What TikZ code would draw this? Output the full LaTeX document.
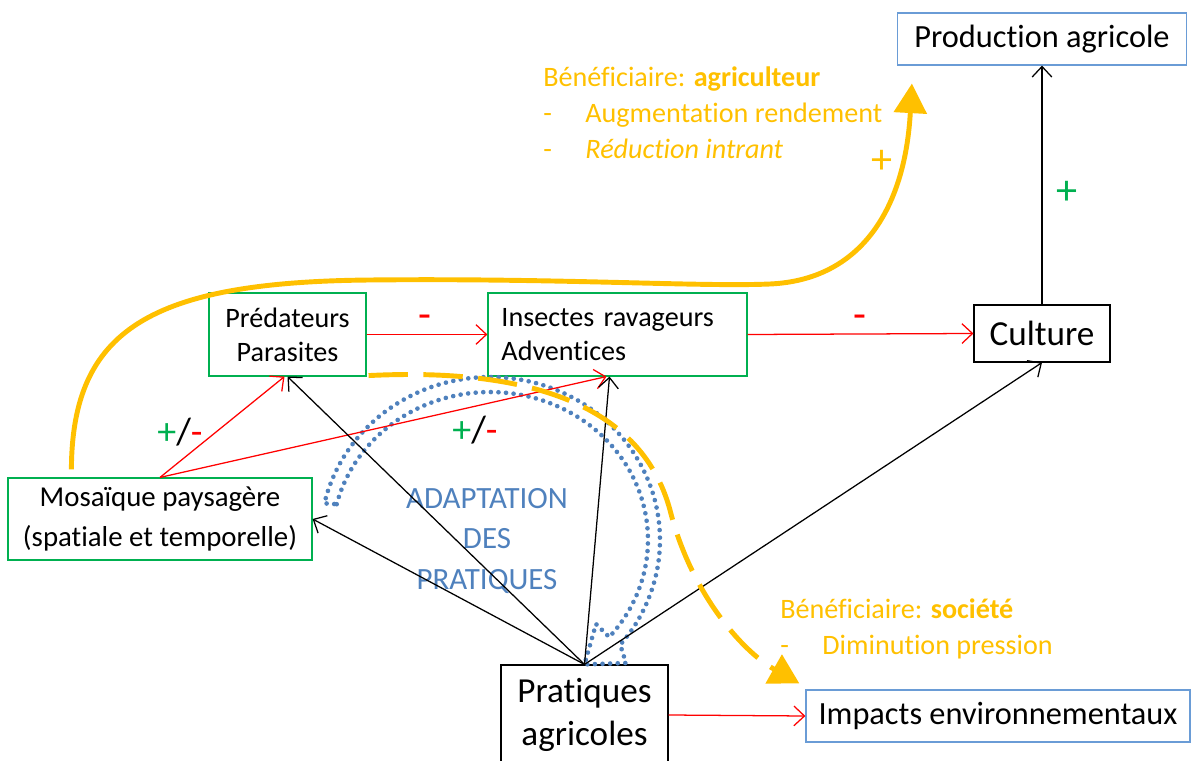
\documentclass[tikz,border=0pt]{standalone}
\usepackage{fontspec}
\setmainfont{Carlito}[Ligatures=NoCommon]
\usetikzlibrary{positioning,arrows.meta,calc}
\definecolor{orangeben}{HTML}{FFC000}
\definecolor{vertbox}{HTML}{00B050}
\definecolor{bleubox}{HTML}{6A9CD6}
\definecolor{bleupoint}{HTML}{4F81BD}
\newcommand{\plusmoins}{\textcolor{vertbox}{+}/\textcolor{red}{-}}
\newcommand{\tiret}{\makebox[30pt][l]{-}}

\begin{document}
\begin{tikzpicture}[
x=0.025cm, y=-0.025cm,
font=\fontsize{20}{24.4}\selectfont,
vbox/.style={draw=vertbox, line width=0.8pt, align=center},
bbox/.style={draw=bleubox, line width=0.8pt, align=center},
nbox/.style={draw=black, line width=0.8pt, align=center},
arrow/.style={-{Straight Barb[length=7.5pt,width=14pt]}, line width=0.9pt},
redarrow/.style={arrow, red},
benefarrow/.style={-{Triangle[length=21pt,width=23pt]}, orangeben, line width=3.5pt},
benefdash/.style={benefarrow, dash pattern=on 28pt off 11pt},
benef/.style={text=orangeben, align=left, inner sep=0pt, font=\fontsize{20}{25.8}\selectfont},
signe/.style={font=\fontsize{30}{32}\selectfont, inner sep=0pt},
dotline/.style={bleupoint, line width=3.3pt, dash pattern=on 0pt off 5.4pt, line cap=round}
]
\path[use as bounding box, clip] (0,0) rectangle (1192,761);

% boites
\node[bbox, minimum width=7.225cm, minimum height=1.3cm, font=\fontsize{23}{28}\selectfont] (prod) at (1042,39) {Production agricole};
\node[nbox, minimum width=3.4cm, minimum height=1.425cm, font=\fontsize{25}{30}\selectfont] (cult) at (1042,333.5) {Culture};
\node[vbox, minimum width=3.925cm, minimum height=2.075cm] (pred) at (287.5,334.5) {Prédateurs\\Parasites};
\node[vbox, minimum width=6.475cm, minimum height=2.075cm, text width=5.8cm, align=left] (ravag) at (617.5,334.5) {Insectes ravageurs\\Adventices};
\node[vbox, minimum width=7.6cm, minimum height=2.05cm, font=\fontsize{20.5}{28}\selectfont] (mosa) at (160,519) {Mosaïque paysagère\\(spatiale et temporelle)};
\node[nbox, minimum width=4.175cm, minimum height=2.5cm, font=\fontsize{25}{31}\selectfont] (prat) at (584.5,715) {Pratiques\\agricoles};
\node[bbox, minimum width=9.6cm, minimum height=1.3cm, font=\fontsize{23}{28}\selectfont] (impact) at (998,716) {Impacts environnementaux};

% adaptation
\draw[dotline] plot[domain=194:401, samples=70] ({490+158*cos(\x)}, {540+148*sin(\x)})
  -- (596,624) -- (prat.north) -- (626,663)
  -- plot[domain=400:193, samples=70] ({490+170*cos(\x)}, {540+163*sin(\x)}) -- cycle;
\node[text=bleupoint, align=center, font=\fontsize{22}{28.5}\selectfont] (adapt) at (487,541) {ADAPTATION\\DES\\PRATIQUES};

% fleches
\draw[arrow] (cult.north) -- (prod.south);
\draw[redarrow] (pred.east) -- (ravag.west);
\draw[redarrow] (ravag.east) -- (cult.west);
\draw[redarrow] (mosa.north) -- ($(pred.south)+(-3,0)$);
\draw[redarrow] (mosa.north) -- ($(ravag.south)+(-11,0)$);
\draw[arrow] (prat.north) -- (pred.south);
\draw[arrow] (prat.north) -- (mosa.east);
\draw[arrow] (prat.north) -- ($(ravag.south)+(-8,0)$);
\draw[arrow] (prat.north) -- (cult.south);
\draw[redarrow] (prat.east) -- (impact.west);

% signes
\node[signe, text=red] (moinsA) at (425,322) {-};
\node[signe, text=red] (moinsB) at (860,322) {-};
\node[signe, text=vertbox] (plusC) at (1067,193) {+};
\node[signe, text=orangeben] (plusB) at (882,162) {+};
\node[signe, font=\fontsize{27}{30}\selectfont] (pmA) at (180,432) {\plusmoins};
\node[signe, font=\fontsize{27}{30}\selectfont] (pmB) at (475,430) {\plusmoins};

% beneficiaires
\coordinate (agri) at ($(prod.south west)+(15,18)$);
\draw[benefarrow] ($(mosa.north west)+(64,-8)$) .. controls (72,330) and (150,282) .. (370,280)
  .. controls (560,278) and (700,287) .. (770,284) .. controls (860,280) and (905,210) .. (agri);
\draw[benefdash] ($(pred.south east)+(2,-1)$) .. controls (520,368) and (640,400) .. (670,510)
  .. controls (690,590) and (740,650) .. ($(impact.north west)+(-6,-6)$);
\node[benef, anchor=north west] (txtagri) at (543,66) {Bénéficiaire: \textbf{agriculteur}\\\tiret Augmentation rendement\\\tiret\textit{Réduction intrant}};
\node[benef, anchor=north west] (txtsoc) at (780,598) {Bénéficiaire: \textbf{société}\\\tiret Diminution pression};
\end{tikzpicture}
\end{document}
